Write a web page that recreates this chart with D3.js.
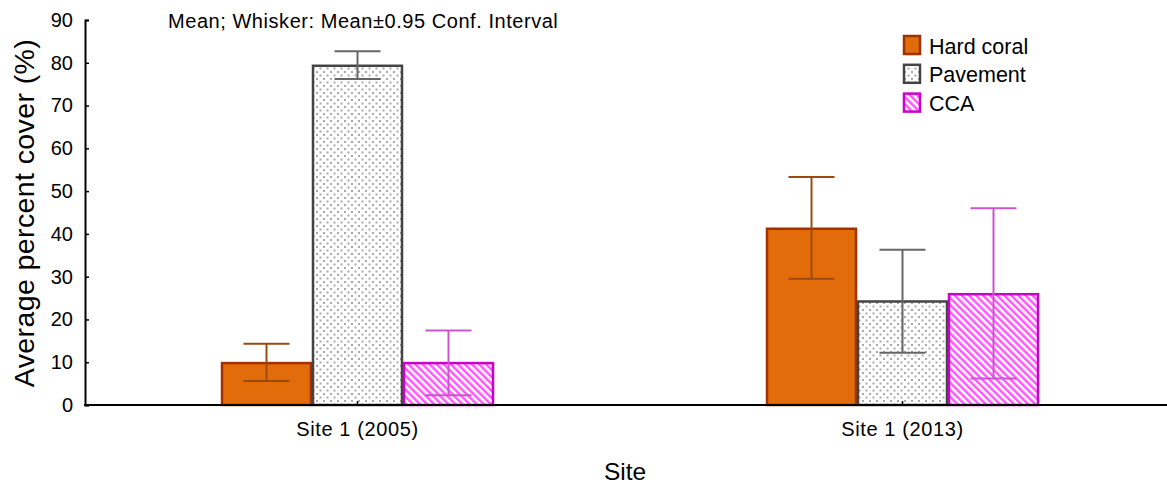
<!DOCTYPE html>
<html><head><meta charset="utf-8">
<script src="https://cdn.jsdelivr.net/npm/d3@7/dist/d3.min.js"></script>
<style>body{margin:0;background:#fff}svg{display:block;font-family:"Liberation Sans",Arial,sans-serif}</style>
</head><body><svg id="c" width="1167" height="485"></svg>
<script>
const categories = ["Site 1 (2005)", "Site 1 (2013)"];
const seriesNames = ["Hard coral", "Pavement", "CCA"];
const hardCoral = [9.8, 41.2];
const pavement = [79.3, 24.2];
const cca = [9.8, 25.9];
const hardCoralLow = [5.6, 29.5], hardCoralHigh = [14.3, 53.3];
const pavementLow = [76.2, 12.2], pavementHigh = [82.7, 36.3];
const ccaLow = [2.3, 6.2], ccaHigh = [17.4, 46.0];
const yTicks = [0,10,20,30,40,50,60,70,80,90];

const svg = d3.select("#c");
const defs = svg.append("defs");
const dots = defs.append("pattern").attr("id","dots").attr("patternUnits","userSpaceOnUse").attr("width",7).attr("height",7);
dots.append("rect").attr("width",7).attr("height",7).attr("fill","#fff");
dots.append("rect").attr("x",1).attr("y",1).attr("width",2).attr("height",2).attr("fill","#aaa");
dots.append("rect").attr("x",4.5).attr("y",4.5).attr("width",2).attr("height",2).attr("fill","#aaa");
const hatch = defs.append("pattern").attr("id","hatch").attr("patternUnits","userSpaceOnUse").attr("width",5).attr("height",5).attr("patternTransform","rotate(-45)");
hatch.append("rect").attr("width",5).attr("height",5).attr("fill","#fff");
hatch.append("rect").attr("x",0).attr("width",2.5).attr("height",5).attr("fill","#ff55ff");

const styles = [
  {fill:"#e36c0a", stroke:"#a33000", whisker:"#9a4a10"},
  {fill:"url(#dots)", stroke:"#444", whisker:"#666"},
  {fill:"url(#hatch)", stroke:"#cc00cc", whisker:"#cc55cc"}
];
const vals = [hardCoral, pavement, cca];
const lows = [hardCoralLow, pavementLow, ccaLow];
const highs = [hardCoralHigh, pavementHigh, ccaHigh];

const x1 = 1167;
const y = d3.scaleLinear().domain([0,90]).range([405,20]);
const x = d3.scaleBand().domain(categories).range([85,1175]);
const barW = 91;
const xs = d3.scaleBand().domain(seriesNames).range([-barW*1.5, barW*1.5]);

categories.forEach((c,ci)=>{
  const cx = x(c) + x.bandwidth()/2;
  seriesNames.forEach((s,si)=>{
    const bx = cx + xs(s);
    const st = styles[si];
    svg.append("rect").attr("x",bx+1).attr("y",y(vals[si][ci])).attr("width",xs.bandwidth()-2)
      .attr("height",y(0)-y(vals[si][ci])).attr("fill",st.fill).attr("stroke",st.stroke).attr("stroke-width",2.5);
    const wx = bx + xs.bandwidth()/2;
    const g = svg.append("g").attr("stroke",st.whisker).attr("stroke-width",2);
    g.append("line").attr("x1",wx).attr("x2",wx).attr("y1",y(lows[si][ci])).attr("y2",y(highs[si][ci]));
    g.append("line").attr("x1",wx-23).attr("x2",wx+23).attr("y1",y(lows[si][ci])).attr("y2",y(lows[si][ci]));
    g.append("line").attr("x1",wx-23).attr("x2",wx+23).attr("y1",y(highs[si][ci])).attr("y2",y(highs[si][ci]));
  });
});

const ya = svg.append("g").attr("transform","translate(85,0)")
  .call(d3.axisRight(y).tickValues(yTicks).tickSize(4).tickSizeOuter(4));
ya.select(".domain").attr("stroke","#000").attr("stroke-width",2);
ya.selectAll(".tick line").attr("stroke","#000").attr("stroke-width",1.5);
ya.selectAll(".tick text").attr("x",-12).attr("text-anchor","end").attr("font-size",20).attr("font-family","Liberation Sans, Arial").attr("fill","#000");

svg.append("line").attr("x1",84).attr("x2",x1).attr("y1",405).attr("y2",405).attr("stroke","#000").attr("stroke-width",2);
categories.forEach(c=>{
  const cx = x(c)+x.bandwidth()/2;
  svg.append("line").attr("x1",cx).attr("x2",cx).attr("y1",405).attr("y2",401).attr("stroke","#000").attr("stroke-width",1.5);
  svg.append("text").attr("x",cx).attr("y",436).attr("text-anchor","middle").attr("font-size",20).attr("letter-spacing",0.6).text(c);
});

svg.append("text").attr("x",625).attr("y",480).attr("text-anchor","middle").attr("font-size",24.5).text("Site");
svg.append("text").attr("transform","translate(34,213) rotate(-90)").attr("text-anchor","middle").attr("font-size",28.5).attr("letter-spacing",0.4).text("Average percent cover (%)");
svg.append("text").attr("x",168).attr("y",28).attr("font-size",20).attr("letter-spacing",0.55).text("Mean; Whisker: Mean±0.95 Conf. Interval");

seriesNames.forEach((s,i)=>{
  const ly = 35 + i*28.8;
  svg.append("rect").attr("x",904).attr("y",ly+1).attr("width",16).attr("height",18)
    .attr("fill",styles[i].fill).attr("stroke",styles[i].stroke).attr("stroke-width",2.5);
  svg.append("text").attr("x",929).attr("y",ly+18.5).attr("font-size",21.5).text(s);
});
</script></body></html>
